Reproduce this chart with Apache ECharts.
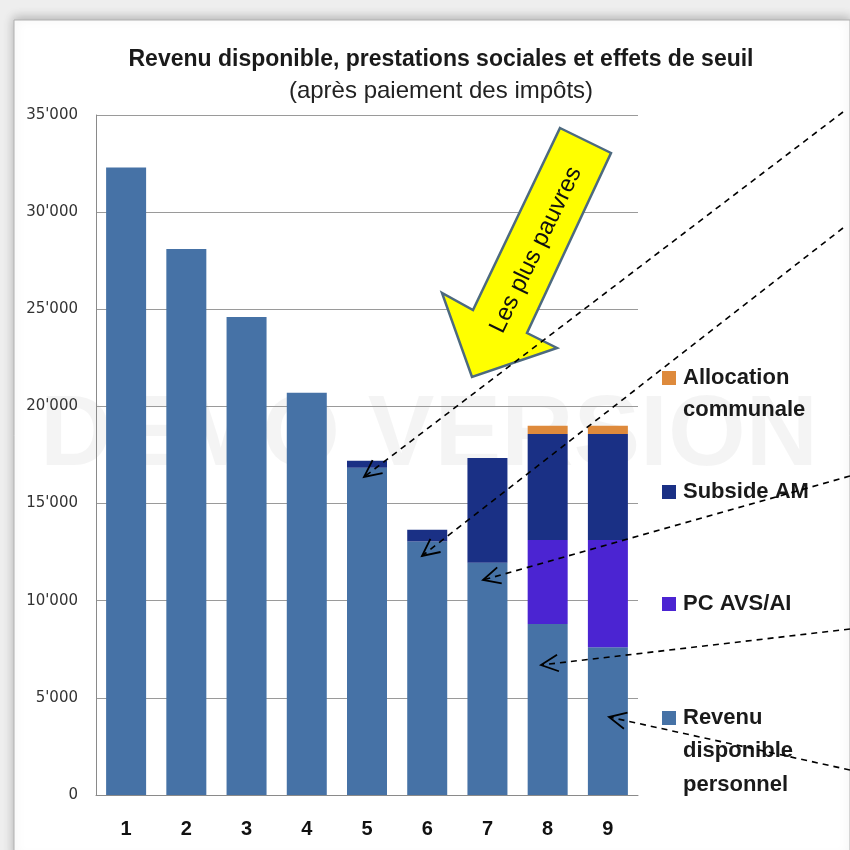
<!DOCTYPE html>
<html>
<head>
<meta charset="utf-8">
<script src="https://cdn.jsdelivr.net/npm/echarts@6/dist/echarts.min.js"></script>
<style>
  html, body { margin: 0; padding: 0; background: #fff; }
  #chart { width: 850px; height: 850px; }
</style>
</head>
<body>
<div id="chart"></div>
<script>
// données
var categories = ['1', '2', '3', '4', '5', '6', '7', '8', '9'];
var revenuPerso = [32300, 28100, 24600, 20700, 16850, 13050, 11950, 8800, 7600];
var pcAvsAi = [0, 0, 0, 0, 0, 0, 0, 4330, 5530];
var subsideAm = [0, 0, 0, 0, 350, 600, 5400, 5450, 5450];
var allocCommunale = [0, 0, 0, 0, 0, 0, 0, 430, 430];
var yTicks = [0, 5000, 10000, 15000, 20000, 25000, 30000, 35000];

var colors = {
  revenu: '#4672a6',
  pc: '#4b24d2',
  subside: '#1a3085',
  alloc: '#de8a3c'
};

// flèches pointillées (annotations) : départ -> pointe
function dashedArrow(x1, y1, x2, y2) {
  var dx = x1 - x2, dy = y1 - y2;
  var len = Math.sqrt(dx * dx + dy * dy);
  var ux = dx / len, uy = dy / len;
  var a = 0.45, L = 19;
  var p1 = [x2 + L * (ux * Math.cos(a) - uy * Math.sin(a)), y2 + L * (ux * Math.sin(a) + uy * Math.cos(a))];
  var p2 = [x2 + L * (ux * Math.cos(-a) - uy * Math.sin(-a)), y2 + L * (ux * Math.sin(-a) + uy * Math.cos(-a))];
  return [
    { type: 'line', z: 50, shape: { x1: x1, y1: y1, x2: x2, y2: y2 },
      style: { stroke: '#000', lineWidth: 1.6, lineDash: [6, 5] } },
    { type: 'polyline', z: 50, shape: { points: [p1, [x2, y2], p2] },
      style: { stroke: '#000', lineWidth: 1.8, fill: null } }
  ];
}

var arrows = []
  .concat(dashedArrow(843, 112, 364, 477))
  .concat(dashedArrow(843, 228, 422, 556))
  .concat(dashedArrow(850, 476, 483, 580))
  .concat(dashedArrow(850, 629, 541, 665))
  .concat(dashedArrow(850, 770, 609, 717));

var legendFont = { fontFamily: 'Liberation Sans', fontSize: 22, fontWeight: 'bold', color: '#1a1a1a' };

// lignes suivantes des libellés de légende
function legendLine(txt, y) {
  return { type: 'text', z: 30, x: 683, y: y,
    style: { text: txt, fill: legendFont.color,
             font: 'bold 22px "Liberation Sans"',
             align: 'left', verticalAlign: 'middle',
             textAlign: 'left', textVerticalAlign: 'middle' } };
}

function legendItem(name, top) {
  return {
    data: [name],
    left: 662,
    top: top,
    padding: 0,
    itemWidth: 14,
    itemHeight: 14,
    selectedMode: false,
    icon: 'rect',
    formatter: function (n) { return n.split(' ')[0] === 'Subside' || n.split(' ')[0] === 'PC' ? n : n.split(' ')[0]; },
    textStyle: {
      fontFamily: legendFont.fontFamily,
      fontSize: legendFont.fontSize,
      fontWeight: legendFont.fontWeight,
      color: legendFont.color,
      lineHeight: 22,
      padding: [0, 0, 0, 2]
    }
  };
}

var chart = echarts.init(document.getElementById('chart'));

chart.setOption({
  backgroundColor: '#eeeeee',
  animation: false,
  title: {
    text: 'Revenu disponible, prestations sociales et effets de seuil',
    subtext: '(après paiement des impôts)',
    left: 436,
    top: 43,
    textAlign: 'center',
    itemGap: 8,
    textStyle: { fontFamily: 'Liberation Sans', fontSize: 23, fontWeight: 'bold', color: '#1a1a1a' },
    subtextStyle: { fontFamily: 'Liberation Sans', fontSize: 24, color: '#222' }
  },
  legend: [
    legendItem('Allocation communale', 367),
    legendItem('Subside AM', 481),
    legendItem('PC AVS/AI', 593),
    legendItem('Revenu disponible personnel', 707)
  ],
  grid: { left: 96, right: 212, top: 115, bottom: 55 },
  xAxis: {
    type: 'category',
    data: categories,
    axisTick: { show: false },
    axisLine: { lineStyle: { color: '#8a8a8a', width: 1 } },
    axisLabel: {
      margin: 24,
      fontFamily: 'Liberation Sans',
      fontSize: 20,
      fontWeight: 'bold',
      color: '#111'
    }
  },
  yAxis: {
    type: 'value',
    min: yTicks[0],
    max: yTicks[yTicks.length - 1],
    interval: 5000,
    axisLine: { show: true, lineStyle: { color: '#8a8a8a', width: 1 } },
    axisTick: { show: false },
    splitLine: { lineStyle: { color: '#9a9a9a', width: 1 } },
    axisLabel: {
      margin: 18,
      fontFamily: 'DejaVu Sans',
      fontSize: 15,
      color: '#333',
      formatter: function (v) {
        return String(v).replace(/\B(?=(\d{3})+(?!\d))/g, "'");
      }
    }
  },
  series: [
    { name: 'Revenu disponible personnel', type: 'bar', stack: 'total', barWidth: 40,
      itemStyle: { color: colors.revenu }, data: revenuPerso },
    { name: 'PC AVS/AI', type: 'bar', stack: 'total', barWidth: 40,
      itemStyle: { color: colors.pc }, data: pcAvsAi },
    { name: 'Subside AM', type: 'bar', stack: 'total', barWidth: 40,
      itemStyle: { color: colors.subside }, data: subsideAm },
    { name: 'Allocation communale', type: 'bar', stack: 'total', barWidth: 40,
      itemStyle: { color: colors.alloc }, data: allocCommunale }
  ],
  graphic: [
    { type: 'rect', z: -20, shape: { x: 14, y: 20, width: 836, height: 840 },
      style: { fill: '#fff', stroke: '#b0b0b0', lineWidth: 1,
               shadowBlur: 10, shadowColor: 'rgba(0,0,0,0.25)', shadowOffsetY: -2 } },
    { type: 'text', z: -10, x: 40, y: 437,
      style: { text: 'DEMO VERSION', fill: 'rgba(0,0,0,0.045)',
               font: 'bold 100px "Liberation Sans"',
               align: 'left', verticalAlign: 'middle',
               textAlign: 'left', textVerticalAlign: 'middle' } },
    { type: 'polygon', z: 40,
      shape: { points: [[560, 128], [611, 153], [527, 333], [557, 348], [472, 377], [442, 293], [473, 310]] },
      style: { fill: '#ffff00', stroke: '#4d6a80', lineWidth: 2.5, lineJoin: 'miter' } },
    { type: 'text', z: 45, x: 536, y: 250, rotation: 1.12,
      style: { text: 'Les plus pauvres', fill: '#111',
               font: '24px "Liberation Sans"',
               align: 'center', verticalAlign: 'middle',
               textAlign: 'center', textVerticalAlign: 'middle' } },
    legendLine('communale', 410),
    legendLine('disponible', 751),
    legendLine('personnel', 785)
  ].concat(arrows)
});
</script>
</body>
</html>
